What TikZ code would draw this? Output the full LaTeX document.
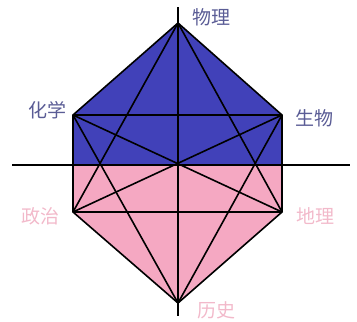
\documentclass[tikz,border=0pt]{standalone}
\usepackage{fontspec}
\newfontfamily\cjk{Noto Sans CJK SC}
\definecolor{upblue}{HTML}{4141B9}
\definecolor{lowpink}{HTML}{F5A8C2}
\definecolor{bluetext}{HTML}{5A5C95}
\definecolor{pinktext}{HTML}{F2B9CA}
\tikzset{
  edge/.style={line width=1.6pt, black},
  lbl/.style={font=\cjk\fontsize{19}{19}\selectfont, inner sep=0pt},
}
\begin{document}
\begin{tikzpicture}[x=1pt,y=-1pt]
\useasboundingbox (0,0) rectangle (357,322);
\coordinate (T) at (178,23);
\coordinate (UL) at (73,115);
\coordinate (UR) at (282,115);
\coordinate (LL) at (73,212);
\coordinate (LR) at (282,212);
\coordinate (B) at (178,303);
\coordinate (ML) at (73,165);
\coordinate (MR) at (282,165);
\coordinate (AL) at (12,165);
\coordinate (AR) at (350,165);
\coordinate (AT) at (178,7);
\coordinate (AB) at (178,316);
\fill[upblue] (UL) -- (T) -- (UR) -- (MR) -- (ML) -- cycle;
\fill[lowpink] (ML) -- (MR) -- (LR) -- (B) -- (LL) -- cycle;
\draw[edge] (AL) -- (AR);
\draw[edge] (AT) -- (AB);
\draw[edge] (T) -- (UL) -- (LL) -- (B) -- (LR) -- (UR) -- cycle;
\draw[edge] (T) -- (LL);
\draw[edge] (T) -- (LR);
\draw[edge] (UL) -- (UR);
\draw[edge] (UL) -- (LR);
\draw[edge] (UL) -- (B);
\draw[edge] (UR) -- (LL);
\draw[edge] (UR) -- (B);
\draw[edge] (LL) -- (LR);
\node[lbl, text=bluetext] (wl) at (211,17) {物理};
\node[lbl, text=bluetext] (hx) at (47,110) {化学};
\node[lbl, text=bluetext] (sw) at (314,118) {生物};
\node[lbl, text=pinktext] (zz) at (40,216) {政治};
\node[lbl, text=pinktext] (dl) at (315,216) {地理};
\node[lbl, text=pinktext] (ls) at (216,310) {历史};
\end{tikzpicture}
\end{document}
